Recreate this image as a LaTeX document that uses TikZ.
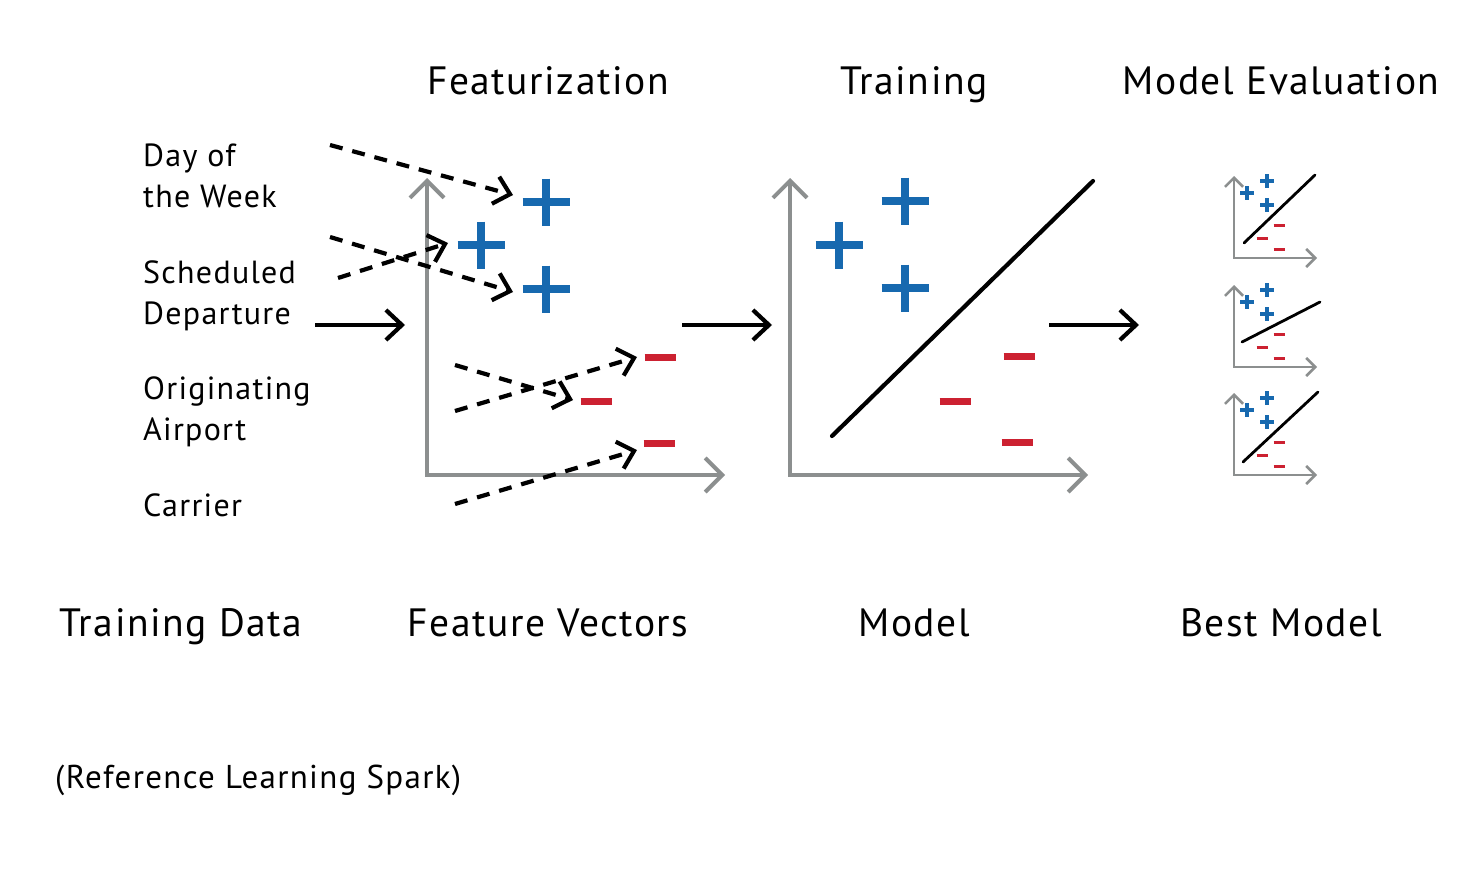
\documentclass[tikz,border=0pt]{standalone}
\usepackage{fontspec}
\setmainfont{PT Sans}[LetterSpace=4]
\usetikzlibrary{arrows.meta}
\definecolor{axisgrey}{RGB}{140,143,143}
\definecolor{plusblue}{RGB}{23,105,175}
\definecolor{minusred}{RGB}{204,33,49}
\tikzset{
  axis/.style={draw=axisgrey, line width=4pt, {Straight Barb[length=17pt,width=34pt]}-{Straight Barb[length=17pt,width=34pt]}},
  flowarrow/.style={draw=black, line width=4.2pt, -{Straight Barb[length=16pt,width=30pt]}},
  dasharrow/.style={draw=black, line width=4.2pt, dash pattern=on 13pt off 10pt, -{Straight Barb[length=15pt,width=28pt]}},
  bigplus/.pic={\draw[plusblue, line width=7.5pt] (-23.5,0)--(23.5,0) (0,-23.5)--(0,23.5);},
  bigminus/.pic={\draw[minusred, line width=7pt] (-15.5,0)--(15.5,0);},
  smallplus/.pic={\draw[plusblue, line width=3.6pt] (-7,0)--(7,0) (0,-7)--(0,7);},
  smallminus/.pic={\draw[minusred, line width=3pt] (-5.5,0)--(5.5,0);},
  smallaxis/.style={draw=axisgrey, line width=2.6pt, {Straight Barb[length=9pt,width=18pt]}-{Straight Barb[length=9pt,width=18pt]}},
  title/.style={font=\fontsize{39.5}{46}\selectfont, anchor=base, inner sep=0pt},
  label/.style={font=\fontsize{32}{41}\selectfont, anchor=base west, inner sep=0pt, align=left},
}
\begin{document}
\begin{tikzpicture}[x=1pt,y=-1pt]
\useasboundingbox (0,0) rectangle (1462,883);
% titles
\node[title] (tFeat) at (548,95) {Featurization};
\node[title] (tTrain) at (914,95) {Training};
\node[title] (tEval) at (1281,95) {Model Evaluation};
\node[title] (bData) at (181,636) {Training Data};
\node[title] (bFeat) at (548,636) {Feature Vectors};
\node[title] (bModel) at (914,636) {Model};
\node[title] (bBest) at (1281,636) {Best Model};
\node[label, font=\fontsize{33}{41}\selectfont] (ref) at (55,788) {(Reference Learning Spark)};
% left labels (anchored at last line's baseline)
\node[label] (day) at (143,207) {Day of\\the Week};
\node[label] (sched) at (143,324) {Scheduled\\Departure};
\node[label] (orig) at (143,440) {Originating\\Airport};
\node[label] (carr) at (143,516) {Carrier};
% axes 1
\coordinate (o1) at (427,475);
\coordinate (y1) at (427,178);
\coordinate (x1) at (725,475);
\draw[axis] (y1) -- (o1) -- (x1);
% axes 2
\coordinate (o2) at (790,475);
\coordinate (y2) at (790,178);
\coordinate (x2) at (1088,475);
\draw[axis] (y2) -- (o2) -- (x2);
% feature marks
\coordinate (fp1) at (546,202);
\coordinate (fp2) at (481,245);
\coordinate (fp3) at (546,289);
\coordinate (fm1) at (660,357);
\coordinate (fm2) at (596,401);
\coordinate (fm3) at (659,443);
\foreach \c in {fp1,fp2,fp3} \pic at (\c) {bigplus};
\foreach \c in {fm1,fm2,fm3} \pic at (\c) {bigminus};
% dashed arrows
\coordinate (d1s) at (330,145);
\coordinate (d1e) at (513,195);
\coordinate (d2s) at (330,237);
\coordinate (d2e) at (513,292);
\coordinate (d3s) at (338,278);
\coordinate (d3e) at (448,243);
\coordinate (d4s) at (455,365);
\coordinate (d4e) at (573,400);
\coordinate (d5s) at (455,411);
\coordinate (d5e) at (637,357);
\coordinate (d6s) at (455,504);
\coordinate (d6e) at (637,450);
\draw[dasharrow] (d1s) -- (d1e);
\draw[dasharrow] (d2s) -- (d2e);
\draw[dasharrow] (d3s) -- (d3e);
\draw[dasharrow] (d4s) -- (d4e);
\draw[dasharrow] (d5s) -- (d5e);
\draw[dasharrow] (d6s) -- (d6e);
% flow arrows
\coordinate (a1s) at (315,325); \coordinate (a1e) at (405,325);
\coordinate (a2s) at (682,325); \coordinate (a2e) at (772,325);
\coordinate (a3s) at (1049,325); \coordinate (a3e) at (1139,325);
\draw[flowarrow] (a1s) -- (a1e);
\draw[flowarrow] (a2s) -- (a2e);
\draw[flowarrow] (a3s) -- (a3e);
% training marks
\coordinate (tp1) at (839,245);
\coordinate (tp2) at (905,201);
\coordinate (tp3) at (905,288);
\coordinate (tm1) at (1019,356);
\coordinate (tm2) at (955,401);
\coordinate (tm3) at (1017,442);
\foreach \c in {tp1,tp2,tp3} \pic at (\c) {bigplus};
\foreach \c in {tm1,tm2,tm3} \pic at (\c) {bigminus};
\coordinate (ls) at (832,436);
\coordinate (le) at (1093,181);
\draw[line width=4.2pt, line cap=round] (ls) -- (le);
% small charts
\foreach \dy/\lx/\ly/\rx/\ry in {0/1244/243/1315/175, 109/1242/342/1320/302, 217/1243/462/1318/392} {
  \begin{scope}[yshift=-\dy pt]
  \coordinate (so) at (1234,258);
  \coordinate (sy) at (1234,176);
  \coordinate (sx) at (1317,258);
  \draw[smallaxis] (sy) -- (so) -- (sx);
  \pic at (1247,193) {smallplus};
  \pic at (1267,181) {smallplus};
  \pic at (1267,205) {smallplus};
  \pic at (1279,225) {smallminus};
  \pic at (1262,238) {smallminus};
  \pic at (1279,249) {smallminus};
  \end{scope}
  \coordinate (sls) at (\lx,\ly);
  \coordinate (sle) at (\rx,\ry);
  \draw[line width=2.8pt, line cap=round] (sls) -- (sle);
}
\end{tikzpicture}
\end{document}
